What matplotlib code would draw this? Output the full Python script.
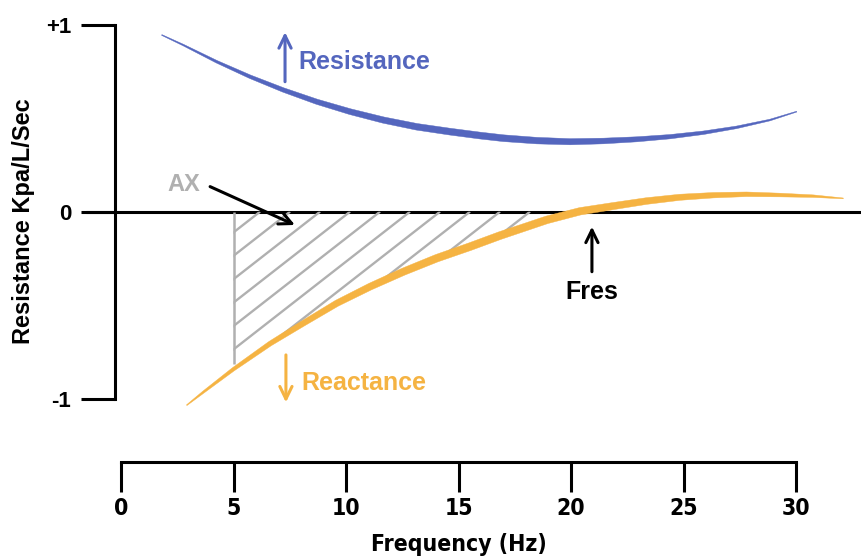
import numpy as np
import matplotlib
matplotlib.use("Agg")
import matplotlib.pyplot as plt
from matplotlib.collections import LineCollection
from matplotlib.patches import Polygon
from matplotlib.font_manager import FontProperties

# ---------------- data ----------------
res_freq = [1.81, 2.77, 4.25, 5.73, 7.21, 8.70, 10.18, 11.66, 13.14, 14.62, 15.96,
            16.99, 18.48, 19.96, 21.44, 22.92, 24.40, 25.88, 27.36, 28.84, 30.03]
res_val = [0.945, 0.891, 0.802, 0.722, 0.651, 0.588, 0.535, 0.490, 0.454, 0.428, 0.407,
           0.393, 0.380, 0.374, 0.378, 0.387, 0.401, 0.422, 0.451, 0.490, 0.535]

reac_freq = [2.92, 3.66, 4.99, 6.62, 8.10, 9.59, 11.07, 12.55, 14.03, 15.51, 16.84,
             18.92, 20.40, 21.88, 23.36, 24.84, 26.32, 27.80, 29.29, 30.77, 32.10]
reac_val = [-1.035, -0.965, -0.843, -0.706, -0.597, -0.490, -0.401, -0.321, -0.249, -0.187,
            -0.128, -0.044, 0.002, 0.030, 0.057, 0.077, 0.088, 0.093, 0.089, 0.083, 0.071]

x_ticks = [0, 5, 10, 15, 20, 25, 30]
x_tick_labels = ["0", "5", "10", "15", "20", "25", "30"]
y_ticks = [-1, 0, 1]
y_tick_labels = ["-1", "0", "+1"]

ax_start = 5.0       # AX area start frequency
fres = 20.93         # resonant frequency marker

# ---------------- style ----------------
BLUE = "#5466BE"
ORANGE = "#F5B342"
GRAY = "#B0B0B0"
BLACK = "#000000"

plt.rcParams["font.family"] = ["Liberation Sans", "DejaVu Sans"]
plt.rcParams["font.weight"] = "bold"
narrow = FontProperties(family="DejaVu Sans", stretch="condensed", weight="bold", size=16.5)
narrow_lbl = FontProperties(family="DejaVu Sans", stretch="condensed", weight="bold", size=16.5)

fig = plt.figure(figsize=(8.62, 5.58), dpi=100)
ax = fig.add_axes([0, 0, 1, 1])
ax.set_xlim(-5.378, 32.933)
ax.set_ylim(-1.852, 1.132)

for s in ("top", "right"):
    ax.spines[s].set_visible(False)
ax.spines["left"].set_position(("data", -0.27))
ax.spines["left"].set_bounds(-1, 1)
ax.spines["left"].set_linewidth(2.2)
ax.spines["bottom"].set_position(("data", -1.336))
ax.spines["bottom"].set_bounds(0, 30)
ax.spines["bottom"].set_linewidth(2.2)

ax.set_xticks(x_ticks)
ax.set_xticklabels(x_tick_labels, fontproperties=narrow)
ax.set_yticks(y_ticks)
ax.set_yticklabels(y_tick_labels, fontsize=16, fontweight="bold")
ax.tick_params(axis="x", direction="out", length=21.6, width=2.2, pad=4)
ax.tick_params(axis="y", direction="out", length=24.5, width=2.2, pad=7)

ax.set_xlabel("Frequency (Hz)", fontproperties=narrow_lbl, va="center", ha="center")
ax.xaxis.set_label_coords(0.532, 0.0233)
ax.set_ylabel("Resistance Kpa/L/Sec", fontsize=17, fontweight="bold",
              va="center", ha="center")
ax.yaxis.set_label_coords(0.027, 0.604)

# zero line
ax.plot([-1.56, 32.933], [0, 0], color=BLACK, lw=2.2, solid_capstyle="butt", zorder=2)


def tapered(xs, ys, color, wmax_px, p, z):
    pts = ax.transData.transform(np.column_stack([xs, ys]))
    d = np.gradient(pts, axis=0)
    n = np.column_stack([-d[:, 1], d[:, 0]])
    n /= np.linalg.norm(n, axis=1)[:, None]
    seg = np.hypot(*np.diff(pts, axis=0).T)
    s = np.concatenate([[0], np.cumsum(seg)])
    t = s / s[-1]
    half = (wmax_px * np.sin(np.pi * t) ** p + 0.8) / 2
    upper = pts + n * half[:, None]
    lower = pts - n * half[:, None]
    outline = np.vstack([upper, lower[::-1]])
    outline = ax.transData.inverted().transform(outline)
    ax.add_patch(Polygon(outline, closed=True, facecolor=color, edgecolor=color,
                         linewidth=0.3, zorder=z))


# hatched AX area between x=ax_start and the reactance curve
hatch_end = 18.3
rf = np.asarray(reac_freq)
rv = np.asarray(reac_val)
inside = (rf > ax_start) & (rf < hatch_end)
poly = [(ax_start, 0), (ax_start, np.interp(ax_start, rf, rv))]
poly += list(zip(rf[inside], rv[inside]))
poly += [(hatch_end, np.interp(hatch_end, rf, rv)), (hatch_end, 0)]
clip = Polygon(poly, closed=True, facecolor="none", edgecolor="none",
               transform=ax.transData)
ax.add_patch(clip)
slope = 0.0939
step = 1.333
tops = np.arange(6.18, hatch_end, step)
hsegs = [[(tp, 0), (tp - 14, -14 * slope)] for tp in tops]
hl = LineCollection(hsegs, colors=GRAY, linewidths=1.7, zorder=3)
hl.set_clip_path(clip)
ax.add_collection(hl)
ax.plot([ax_start, ax_start], [0, np.interp(ax_start, rf, rv) + 0.03],
        color=GRAY, lw=1.8, zorder=3, solid_capstyle="butt")

# curves
tapered(res_freq, res_val, BLUE, 6.0, 1.0, 4)
tapered(reac_freq, reac_val, ORANGE, 7.0, 0.7, 4)

# annotations
def arrow(tail, tip, color):
    ax.annotate("", xy=tip, xytext=tail,
                arrowprops=dict(arrowstyle="->,head_length=0.45,head_width=0.22",
                                color=color, lw=2.2, shrinkA=0, shrinkB=0,
                                mutation_scale=20),
                zorder=5)

arrow((7.29, 0.695), (7.29, 0.96), BLUE)
ax.text(7.87, 0.80, "Resistance", color=BLUE, fontsize=18, fontweight="bold",
        ha="left", va="center")
arrow((7.33, -0.766), (7.33, -1.02), ORANGE)
ax.text(8.03, -0.918, "Reactance", color=ORANGE, fontsize=18, fontweight="bold",
        ha="left", va="center")
arrow((3.96, 0.134), (7.73, -0.071), BLACK)
ax.text(2.78, 0.143, "AX", color=GRAY, fontsize=17, fontweight="bold",
        ha="center", va="center")
arrow((fres, -0.321), (fres, -0.08), BLACK)
ax.text(fres, -0.432, "Fres", color=BLACK, fontsize=18, fontweight="bold",
        ha="center", va="center")

fig.savefig("out.png", dpi=100)
